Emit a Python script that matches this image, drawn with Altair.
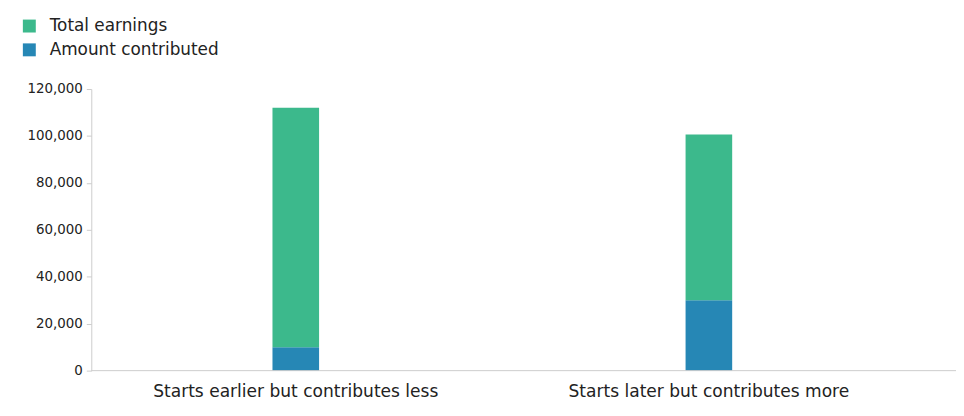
import altair as alt
import pandas as pd

categories = ["Starts earlier but contributes less", "Starts later but contributes more"]
series = ["Total earnings", "Amount contributed"]
amount_contributed = [10000, 30000]
total_earnings = [102000, 70600]
y_ticks = [0, 20000, 40000, 60000, 80000, 100000, 120000]

rows = []
for i, c in enumerate(categories):
    rows.append({"category": c, "series": "Amount contributed", "value": amount_contributed[i], "ord": 0})
    rows.append({"category": c, "series": "Total earnings", "value": total_earnings[i], "ord": 1})
df = pd.DataFrame(rows)

FONT = "DejaVu Sans"
W, H = 829, 284

bars = alt.Chart(df).mark_bar(size=47).encode(
    x=alt.X("category:N", sort=categories,
            scale=alt.Scale(paddingInner=0.5, paddingOuter=0.245),
            axis=alt.Axis(title=None, labelAngle=0, labelFontSize=17.2, labelColor="#222222",
                          labelFont=FONT, ticks=False, domain=False, labelPadding=12,
                          labelLimit=600)),
    y=alt.Y("value:Q", stack="zero",
            scale=alt.Scale(domain=[0, 120000], nice=False),
            axis=alt.Axis(title=None, values=y_ticks, format=",d", grid=False,
                          labelFontSize=13.5, labelColor="#222222", labelFont=FONT,
                          domainColor="#cccccc", tickColor="#cccccc", tickSize=5,
                          labelPadding=4)),
    color=alt.Color("series:N",
                    scale=alt.Scale(domain=series, range=["#3cb98c", "#2687b5"]),
                    legend=alt.Legend(title=None, orient="none", legendX=-71, legendY=-72,
                                      symbolType="square", symbolSize=170, symbolStrokeWidth=0,
                                      labelFontSize=17, labelFont=FONT, labelColor="#222222",
                                      labelLimit=400, rowPadding=6, labelOffset=12)),
    order=alt.Order("ord:Q"),
)

baseline = alt.Chart(pd.DataFrame({"v": [0]})).mark_rule(color="#cccccc", strokeWidth=1).encode(
    y=alt.value(H),
    x=alt.value(0),
    x2=alt.value(872),
)

chart = alt.layer(bars, baseline).properties(
    width=W, height=H,
    autosize=alt.AutoSizeParams(type="none"),
    padding={"left": 84, "top": 80, "right": 43, "bottom": 40},
).configure_view(stroke=None)

chart.save("out.html", embed_options={"renderer": "svg", "actions": False})
